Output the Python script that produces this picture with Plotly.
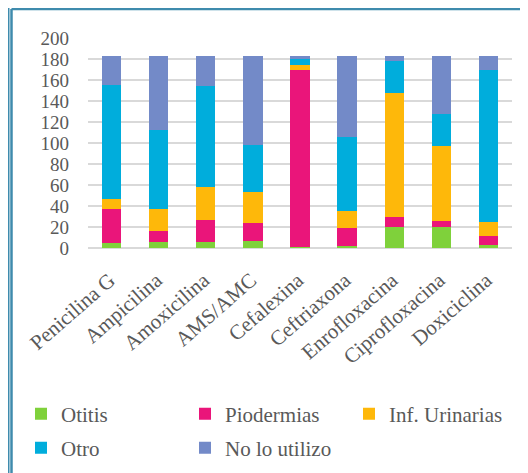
import plotly.graph_objects as go

categories = ["Penicilina G", "Ampicilina", "Amoxicilina", "AMS/AMC", "Cefalexina",
              "Ceftriaxona", "Enrofloxacina", "Ciprofloxacina", "Doxiciclina"]
otitis = [5, 6, 6, 7, 1, 2, 20, 20, 3]
piodermias = [32, 10, 21, 17, 169, 17, 10, 6, 8]
inf_urinarias = [10, 21, 31, 29, 4, 16, 118, 71, 14]
otro = [108, 75, 96, 45, 6, 71, 30, 31, 145]
no_lo_utilizo = [28, 71, 29, 85, 3, 77, 5, 55, 13]
y_ticks = [0, 20, 40, 60, 80, 100, 120, 140, 160, 180, 200]

series = [
    ("Otitis", otitis, "#7FD13B", "legend"),
    ("Piodermias", piodermias, "#EA157A", "legend"),
    ("Inf. Urinarias", inf_urinarias, "#FEB80A", "legend"),
    ("Otro", otro, "#00ADDC", "legend2"),
    ("No lo utilizo", no_lo_utilizo, "#738AC8", "legend2"),
]

FONT = "Liberation Serif"
TXT = "#595959"
FS = 21

fig = go.Figure()
for name, vals, col, lg in series:
    fig.add_trace(go.Bar(name=name, x=categories, y=vals, marker_color=col,
                         marker_line_width=0, legend=lg))

# figure geometry (page has an 8px body margin)
W, H = 520, 465
L, T, PW, PH = 80, 30, 424, 210


def px(fx):
    return (fx - L) / PW


def py(fy):
    return (T + PH - fy) / PH


border = "#3F8BAD"
leg_common = dict(orientation="h", xanchor="left", yanchor="middle",
                  entrywidth=119, entrywidthmode="pixels", itemwidth=30,
                  bgcolor="rgba(0,0,0,0)",
                  font=dict(family=FONT, size=FS, color=TXT), traceorder="normal")
fig.update_layout(
    width=W, height=H,
    margin=dict(l=L, r=W - L - PW, t=T, b=H - T - PH, autoexpand=False),
    barmode="stack", bargap=0.59,
    plot_bgcolor="white", paper_bgcolor="white",
    font=dict(family=FONT, size=FS, color=TXT),
    showlegend=True,
    legend=dict(x=px(13), y=py(406), **leg_common),
    legend2=dict(x=px(13), y=py(440), **leg_common),
    xaxis=dict(tickangle=-41, showgrid=False, showline=False, ticks="", automargin=False,
               ticklabelstandoff=15, ticklabelshift=-2,
               tickfont=dict(family=FONT, size=FS, color=TXT)),
    yaxis=dict(range=[0, 200], tickvals=y_ticks, showgrid=True, gridcolor="#D9D9D9",
               gridwidth=1.5, zeroline=True, zerolinecolor="#D9D9D9", zerolinewidth=1.5,
               ticks="", ticklabelstandoff=18, automargin=False,
               tickfont=dict(family=FONT, size=19, color=TXT)),
    shapes=[
        dict(type="line", xref="paper", yref="paper", x0=px(0.75), x1=px(0.75),
             y0=py(H + 10), y1=py(-10), line=dict(color=border, width=1.5)),
        dict(type="line", xref="paper", yref="paper", x0=px(3.5), x1=px(3.5),
             y0=py(H + 10), y1=py(1), line=dict(color=border, width=2.5)),
        dict(type="line", xref="paper", yref="paper", x0=px(3.5), x1=px(W + 10),
             y0=py(1), y1=py(1), line=dict(color=border, width=2.5)),
    ],
)

fig.write_html("out.html")
